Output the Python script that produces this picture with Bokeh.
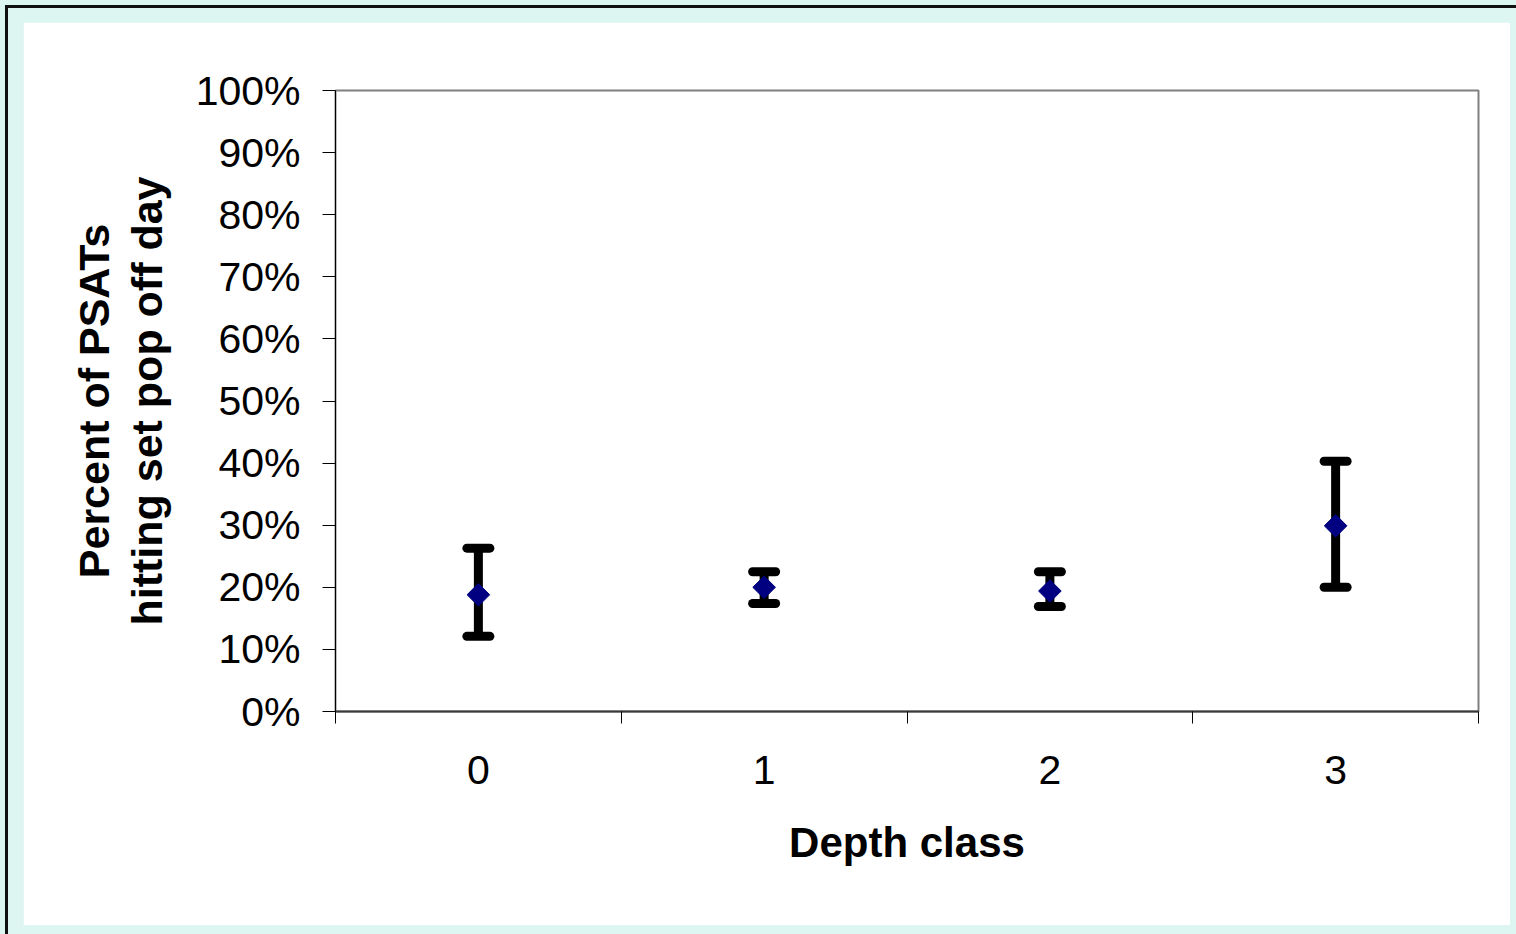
import numpy as np
from bokeh.plotting import figure
from bokeh.models import (ColumnDataSource, Whisker, TeeHead, FixedTicker,
                          NumeralTickFormatter, Range1d)
from bokeh.layouts import column
from bokeh.embed import file_html
from bokeh.resources import INLINE

# ---- data ----
categories = ["0", "1", "2", "3"]
mean_pct = [0.188, 0.200, 0.194, 0.299]
lower_pct = [0.121, 0.174, 0.169, 0.200]
upper_pct = [0.263, 0.225, 0.225, 0.403]
y_ticks = [0.0, 0.1, 0.2, 0.3, 0.4, 0.5, 0.6, 0.7, 0.8, 0.9, 1.0]
x_label = "Depth class"
y_label = "Percent of PSATs\nhitting set pop off day"

xpos = [i + 0.5 for i in range(len(categories))]
bounds = [float(i) for i in range(len(categories) + 1)]
src = ColumnDataSource(dict(x=xpos, mean=mean_pct, lower=lower_pct, upper=upper_pct))

FONT = "Liberation Sans"
CYAN = "#ddf6f1"

p = figure(width=1487, height=903,
           x_range=Range1d(bounds[0], bounds[-1]), y_range=Range1d(0, 1),
           output_backend="svg", toolbar_location=None,
           min_border_left=312, min_border_right=32,
           min_border_top=68, min_border_bottom=214)
p.background_fill_color = "white"
p.border_fill_color = "white"
p.outline_line_color = "#808080"
p.outline_line_width = 2
p.xgrid.visible = False
p.ygrid.visible = False

# error bars
w = Whisker(source=src, base="x", upper="upper", lower="lower",
            dimension="height", line_color="black", line_width=9,
            upper_head=TeeHead(size=23, line_color="black", line_width=9, line_cap="round"),
            lower_head=TeeHead(size=23, line_color="black", line_width=9, line_cap="round"))
w.level = "underlay"
p.add_layout(w)

r = p.scatter("x", "mean", source=src, marker="square", angle=np.pi / 4, size=16,
              fill_color="#000080", line_color="#000080")
r.level = "overlay"

# x axis
xa = p.xaxis[0]
xa.ticker = FixedTicker(ticks=xpos, minor_ticks=bounds)
xa.major_label_overrides = {x: c for x, c in zip(xpos, categories)}
xa.major_tick_in = 0
xa.major_tick_out = 0
xa.minor_tick_in = 0
xa.minor_tick_out = 12
xa.minor_tick_line_color = "black"
xa.axis_line_color = "#3a3a3a"
xa.axis_line_width = 2
xa.major_label_text_font = FONT
xa.major_label_text_font_size = "41px"
xa.major_label_text_color = "black"
xa.major_label_standoff = 32
xa.axis_label = x_label
xa.axis_label_text_font = FONT
xa.axis_label_text_font_size = "42px"
xa.axis_label_text_font_style = "bold"
xa.axis_label_text_color = "black"
xa.axis_label_standoff = 32

# y axis
ya = p.yaxis[0]
ya.ticker = FixedTicker(ticks=y_ticks, minor_ticks=[])
ya.formatter = NumeralTickFormatter(format="0%")
ya.major_tick_in = 0
ya.major_tick_out = 13
ya.major_tick_line_color = "black"
ya.axis_line_color = "black"
ya.axis_line_width = 1
ya.major_label_text_font = FONT
ya.major_label_text_font_size = "41px"
ya.major_label_text_color = "black"
ya.major_label_standoff = 22
ya.axis_label = y_label
ya.axis_label_text_font = FONT
ya.axis_label_text_font_size = "43px"
ya.axis_label_text_font_style = "bold"
ya.axis_label_text_color = "black"
ya.axis_label_text_line_height = 1.1
ya.axis_label_standoff = 22

inner = column(p, styles={"background-color": CYAN,
                          "border-left": "3px solid #111111",
                          "border-top": "3px solid #111111",
                          "padding": "14px 6px 9px 15px"})
lay = column(inner, styles={"background-color": CYAN,
                            "padding": "5px 0px 0px 5px"})

open("out.html", "w").write(file_html(lay, INLINE))
